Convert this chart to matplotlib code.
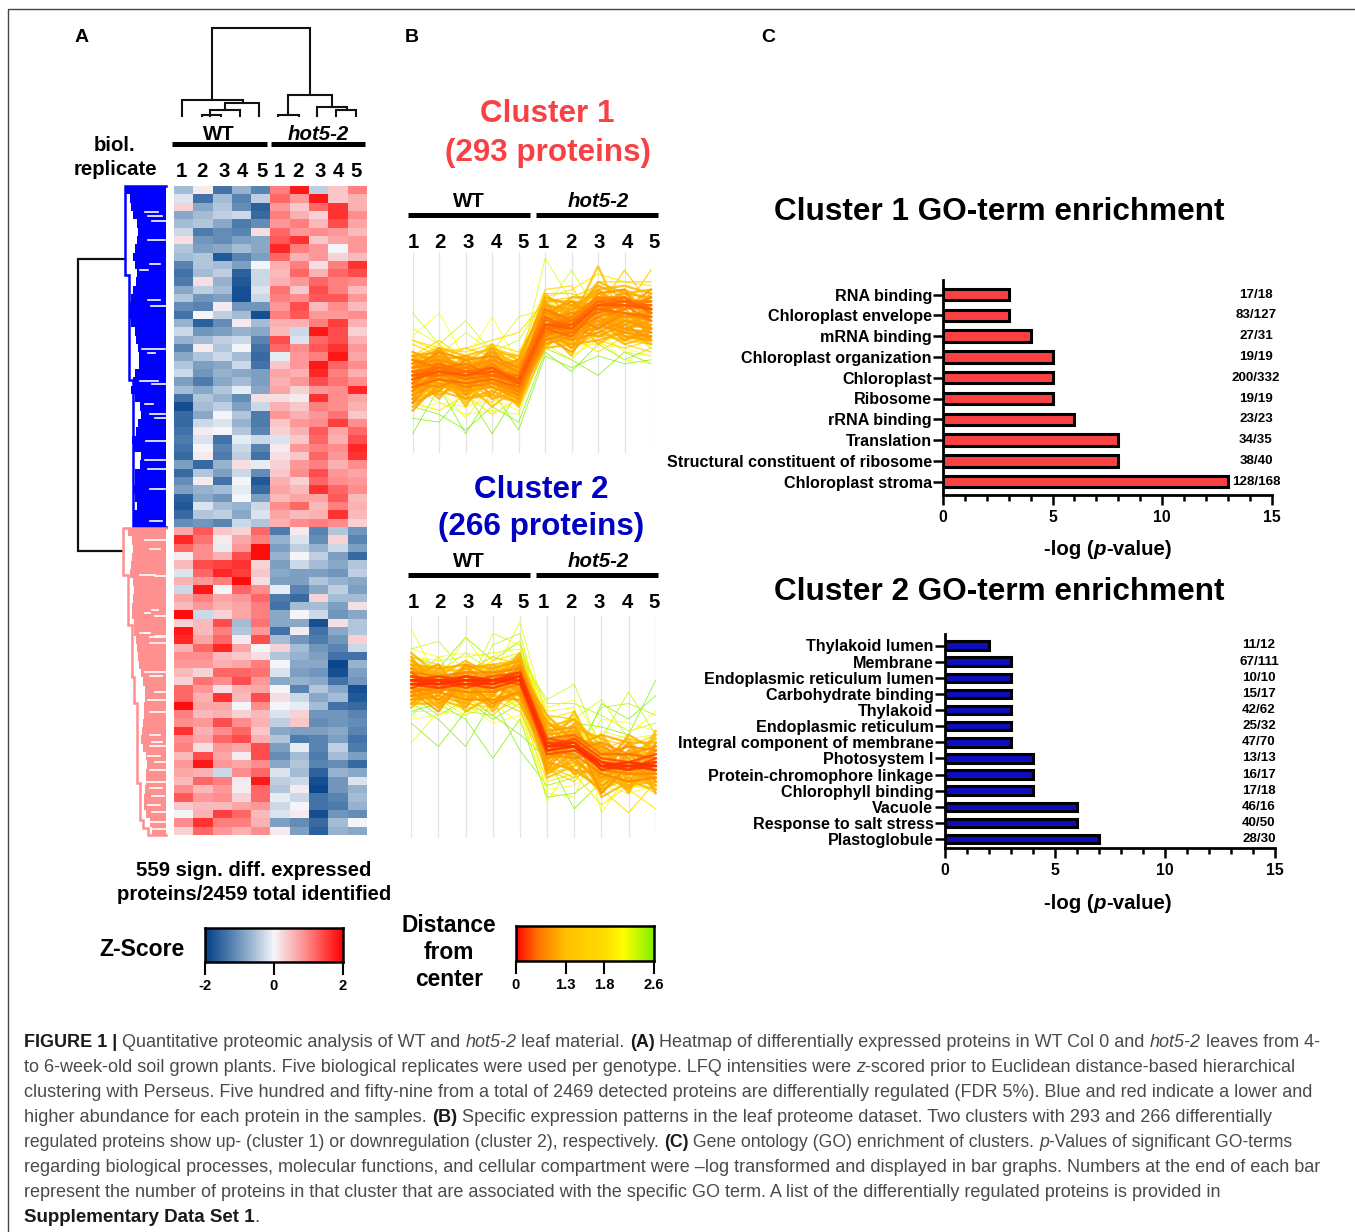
import numpy as np
import matplotlib
matplotlib.use("Agg")
import matplotlib.pyplot as plt
from matplotlib.colors import LinearSegmentedColormap
from matplotlib.ticker import MultipleLocator

plt.rcParams['font.family'] = ['Liberation Sans', 'DejaVu Sans']
W, H = 1355, 1232

# ---------- data ----------
REPLICATES = ['1', '2', '3', '4', '5']
# z-scores x10, columns WT1-5, hot5-2 1-5
HEAT_TOP = [
 [-6,1,-14,-7,-12,10,18,-4,4,10],[-2,-14,-6,-12,-4,12,8,18,4,6],[3,-8,-5,-11,-16,8,4,12,16,6],
 [-8,-6,-4,-3,-15,10,6,3,16,9],[-6,-5,-8,-13,-11,8,10,5,14,7],[-3,-13,-11,-12,2,12,8,9,8,5],
 [2,-10,-11,-9,-8,13,16,4,7,8],[-5,-9,-8,-6,-8,17,10,8,0,8],[-6,-5,-17,-12,-9,12,6,8,3,5],
 [-12,-5,-6,-9,0,6,10,2,10,16],[-14,-6,-4,-16,-3,5,12,6,12,14],[-13,2,-7,-17,-3,6,8,12,10,9],
 [-8,-4,-6,-18,-2,11,4,14,10,5],[-5,-10,-9,-18,-3,10,9,13,13,8],[-11,-12,1,-10,-10,8,14,5,9,5],
 [-14,0,-4,-6,-18,10,13,8,8,9],[-7,-16,-11,1,-6,6,6,10,15,6],[-3,-10,-9,-7,-8,5,-3,18,14,3],
 [-7,-6,-4,-3,-12,14,-2,12,14,6],[-12,1,-5,0,-14,12,9,13,16,8],[-8,-5,-3,-6,-15,-1,8,10,18,7],
 [-5,-9,-8,-3,-14,4,8,18,12,9],[-3,-10,-7,-8,-9,7,6,17,10,6],[-9,-13,-8,-6,-9,6,8,14,11,9],
 [-6,-8,-5,-1,-8,7,3,8,9,17],[-14,-5,-7,-11,2,2,1,16,9,7],[-18,-6,-4,-9,-3,6,4,10,9,6],
 [-15,-8,0,-5,-13,8,6,8,11,4],[-15,-3,-2,-7,-13,4,8,9,15,9],[-14,1,0,-5,-12,3,6,13,7,12],
 [-13,-2,-14,-1,-3,-2,4,12,6,14],[-14,0,-12,-3,-12,1,8,10,9,17],[-15,1,-13,-4,-14,2,4,12,8,16],
 [-9,-15,-7,2,-1,3,8,10,6,9],[-15,-5,-9,-3,-11,4,9,14,8,7],[-11,1,-14,0,-17,6,3,12,9,8],
 [-9,-7,-6,-1,-15,7,5,16,12,9],[-16,-8,-10,0,-9,5,7,7,13,5],[-17,-2,-6,-7,-3,9,12,5,10,6],
 [-15,-5,-4,-8,-2,7,5,6,16,5],[-11,-10,-12,-3,-5,6,9,10,9,3]]
HEAT_BOTTOM = [
 [7,13,4,3,12,-13,1,-12,-5,-10],[17,11,1,7,10,-7,-2,-11,3,-12],[12,9,-1,8,19,-9,-4,-7,-3,-9],
 [1,9,6,14,19,-7,0,-4,-9,-15],[5,14,15,16,3,-9,-3,-6,-8,-5],[-2,12,17,15,4,-8,-9,-9,-10,-4],
 [6,8,10,19,2,-9,-9,-5,-7,-8],[-3,18,0,12,9,-1,-12,-8,-4,-9],[7,10,7,8,12,-13,-15,3,-6,-6],
 [5,8,6,7,10,-14,-6,-6,-9,2],[19,-3,3,7,10,-8,0,-3,-10,-8],[3,5,14,-6,11,-8,-8,-18,2,-5],
 [18,5,10,-5,8,-14,1,-14,-8,-5],[17,7,12,1,14,-6,-10,-13,-10,3],[6,12,17,7,0,3,-6,-10,-12,-3],
 [9,9,5,4,2,-5,-7,-9,-14,-14],[8,8,6,7,10,0,-8,-8,-19,-7],[5,3,12,12,11,-2,-9,-10,-18,-9],
 [3,11,9,14,8,-8,-7,-8,-14,-10],[12,8,2,6,7,0,-12,-5,-8,-18],[12,6,16,5,14,2,-3,-8,-6,-17],
 [19,7,7,0,9,0,-1,-6,-14,-15],[10,5,6,3,5,-2,3,-10,-10,-12],[9,8,14,9,6,-4,4,-11,-10,-11],
 [16,6,9,12,4,-8,-9,-9,-8,-12],[9,7,12,14,6,-5,-13,-12,-9,-14],[10,2,8,7,14,-9,-1,-12,-4,-13],
 [5,14,7,1,14,-11,-6,-13,-6,-9],[8,18,8,7,9,-8,-5,-12,-11,-15],[7,6,-3,9,12,-2,-6,-16,-7,-8],
 [5,12,10,1,18,-4,-3,-18,-10,-2],[9,5,8,1,12,-5,1,-19,-10,-7],[13,8,9,3,12,-1,-3,-14,-12,-6],
 [4,5,5,7,8,-3,0,-14,-13,-7],[0,6,15,12,5,-2,1,-18,-10,-11],[9,16,10,10,6,-9,-11,-15,-6,0],
 [3,12,8,6,9,1,-9,-16,-7,-8]]

# profile traces x10, columns WT1-5, hot5-2 1-5
PROFILE_1 = [
 [10,2,8,0,3,14,8,10,7,7],[4,10,-2,9,-3,8,6,14,10,8],[6,2,-3,2,-5,24,13,16,12,14],
 [-2,-1,5,0,9,11,21,10,9,8],[3,0,1,3,5,13,9,7,6,5],[-21,-9,-21,-10,-20,-1,-4,-1,-3,-2],
 [-17,-18,-10,-21,-10,1,-2,-6,0,-3],[-14,-16,-20,-14,-18,0,-5,2,-2,1],[-12,-9,-17,-8,-13,5,-1,3,-2,-3],
 [-8,-2,-9,0,-1,10,8,22,7,9],[-3,-1,-2,1,-1,8,10,11,21,12],[-1,1,-3,2,-5,9,8,13,11,21],
 [-3,2,-5,1,-7,14,16,20,18,17],[-6,-1,-4,0,-3,9,12,15,16,13],[-7,-3,-9,-2,-9,4,9,16,17,15],
 [-3,1,-1,1,-2,13,13,9,8,7],[-9,-11,-7,-12,-10,1,2,6,7,6],[-2,-6,-8,-9,-11,9,3,7,5,4],
 [-13,-7,-11,-6,-14,5,1,5,3,5],[-5,-8,-2,-10,-4,13,14,17,15,16],[0,-2,1,-1,-3,6,10,4,3,2],
 [-10,1,-8,2,-6,3,6,4,5,2],[-1,3,-2,-7,-4,15,15,12,2,0],[-15,-13,-14,-12,-15,6,2,2,1,-1],
 [-13,-15,-11,-16,-12,8,4,0,4,2],[-9,-13,-16,-15,-16,2,-2,5,0,-1],[3,1,0,2,0,11,8,3,1,3],
 [-11,-4,-14,-4,-12,11,10,6,2,4],[2,-1,-4,-2,-1,16,17,5,6,1],[-4,-8,-10,-13,-6,10,11,18,18,18],
 [-12,-4,-11,-3,-11,5,3,9,6,4],[-3,-1,-6,0,-6,12,7,9,4,3],[-11,-7,-3,-8,-5,2,6,15,12,14],[-1,-6,-2,-8,-9,7,3,5,8,6],
 [-9,-2,-11,-1,-8,10,13,8,6,5],[-13,-5,-9,-6,-10,6,9,6,10,8],[-8,0,-5,-2,-4,4,0,7,9,11],[-2,-9,-6,-11,-3,8,11,16,10,6],
 [-14,-9,-6,-9,-12,3,5,12,7,10],[-4,-4,-10,-2,-12,11,6,4,7,3],[-6,1,-7,1,-8,9,4,8,3,6],[-10,-6,-12,-5,-6,12,10,17,14,11],
 [-7,-10,-3,-12,-7,5,12,10,16,9],[-12,-2,-8,-4,-13,7,2,3,5,9],[0,-3,-5,-4,-2,13,5,6,10,5],[-5,-11,-8,-14,-9,6,-1,12,3,7],
 [-8,-6,-1,-3,-10,9,14,14,8,15],[-11,-3,-5,0,-7,3,8,18,15,10],[-3,-7,-11,-7,-4,15,9,2,6,2],[-9,-4,-13,-7,-14,1,7,11,15,16],
 [-6,-12,-4,-9,-5,4,2,16,11,6],[-4,-2,-1,-5,-3,5,11,13,4,4],[-15,-8,-9,-4,-9,10,6,7,12,13],[-1,0,-6,-3,-8,14,12,10,13,9],
 [-7,-8,-12,-10,-13,8,13,12,9,5],[-10,-1,-4,-6,-2,2,4,14,6,8],[-5,-3,-10,-1,-10,7,1,9,14,3],[-13,-10,-5,-8,-8,11,5,13,5,11],
 [-2,-5,-7,-2,-5,6,9,6,11,16],[-8,-7,-2,-5,-11,10,7,15,16,6],
 [-11,-8,-10,-9,-12,2,4,8,9,9],[-1,-2,-5,-3,-7,12,11,13,15,14],[-12,-10,-12,-11,-13,4,3,10,8,7],
 [-4,0,-2,-1,-4,8,10,11,9,10],[-8,-9,-6,-8,-11,5,8,14,13,10],[-2,-4,-3,-6,-6,11,8,10,12,8],
 [-10,-5,-7,-3,-8,7,5,13,11,14],[-5,-7,-9,-8,-10,3,5,9,11,12],[-3,-2,-4,-2,-5,10,9,14,14,10],
 [-9,-7,-8,-7,-9,6,4,11,10,9],[-7,-5,-4,-7,-10,4,7,10,14,11],[-4,-3,-7,-5,-6,7,9,14,13,13],
 [-6,-6,-5,-6,-7,9,6,12,12,12],[-8,-4,-6,-4,-9,5,5,11,12,13],[-5,-5,-7,-6,-8,7,8,13,14,10],
 [-7,-3,-5,-4,-7,8,7,13,13,11],[-6,-4,-6,-5,-8,6,6,12,13,12],[-6,-5,-6,-5,-7,7,7,12,13,11],
 [-5,-4,-5,-6,-8,6,7,13,12,12],[-7,-5,-6,-4,-8,7,6,12,12,11],
]
PROFILE_2 = [
 [25,12,23,13,27,2,0,-6,-8,-7],[20,22,14,15,18,7,11,-6,-7,-3],[14,13,9,24,21,3,2,7,-3,-5],
 [12,18,8,21,24,-2,-1,-3,9,-2],[18,15,23,17,22,-4,1,0,-2,12],[-4,4,3,8,5,-19,-9,-12,-10,-9],
 [1,-5,4,3,-2,-8,-21,-14,-13,-12],[6,2,-5,7,-6,-15,-13,-10,-11,-9],[4,6,2,-8,2,-18,-17,-12,-14,-13],
 [2,3,6,1,3,-16,-15,-9,-11,-10],[16,9,17,10,17,5,7,-4,-2,4],[5,7,3,6,8,-17,-18,-1,-3,-2],
 [18,17,18,19,20,4,5,-22,-12,-10],[17,14,15,15,18,-1,3,-16,-22,-14],[15,16,13,17,19,2,4,-14,-16,-21],
 [3,9,5,4,7,-9,-7,5,6,3],[8,3,7,2,6,-12,-10,6,2,8],[19,14,19,14,19,6,6,3,-1,1],
 [6,8,4,9,5,-14,-12,-20,-15,-16],[20,18,19,18,22,3,-3,-15,-17,-15],[4,4,9,6,1,-6,-9,2,1,-1],
 [16,12,15,16,17,1,-1,-12,-14,-16],[5,10,8,3,9,-11,-14,-6,-3,-5],[9,6,10,7,4,-10,-13,-3,-5,-2],
 [18,16,14,18,16,3,2,-13,-15,-13],[7,9,6,5,10,-9,-11,-15,-13,-17],[8,7,9,8,7,-7,-5,-2,-4,-4],
 [18,9,16,8,15,1,-3,-6,-12,-8],[8,14,5,13,6,-8,-4,-14,-7,-12],[15,6,11,5,16,-4,-8,-5,-14,-6],[6,12,15,11,10,-10,-2,-11,-4,-14],
 [13,16,7,14,12,-1,-8,-15,-11,-5],[10,5,14,8,18,-12,-6,-8,-15,-11],[17,11,9,16,9,-5,0,-3,-9,-15],[7,13,11,6,14,-3,-11,-16,-6,-9],
 [14,8,16,9,13,-9,1,-12,-16,-4],[11,15,6,15,8,2,-7,-7,-5,-13],[9,4,13,10,15,-11,-3,-13,-9,-7],[16,10,8,12,17,-6,-12,-4,-13,-15],
 [5,11,12,4,12,-2,-9,-17,-8,-3],[19,13,12,10,11,-7,4,-9,-3,-12],[12,7,5,14,16,-13,-10,-6,-16,-8],[8,15,14,7,7,1,-2,-15,-12,-1],
 [15,14,10,11,19,-8,-5,-2,-10,-16],[6,6,10,12,10,-4,-12,-11,-2,-6],[13,9,15,16,13,-10,-1,-18,-14,-11],[10,13,4,8,15,0,-6,-8,-17,-4],
 [17,12,13,9,15,-3,-9,-13,-6,-17],[7,8,16,13,9,-6,-3,-5,-8,-14],[14,16,8,6,12,-11,-7,-16,-13,-2],[11,5,11,15,17,-2,2,-7,-16,-9],
 [9,11,14,10,8,-9,-11,-12,-4,-12],[16,8,6,13,14,3,-4,-4,-12,-7],[12,14,9,5,11,-12,-8,-14,-9,-15],[10,9,12,9,16,-5,-2,-17,-10,-6],
 [17,13,17,13,18,0,2,-5,-8,-6],[10,7,12,6,9,-8,-6,-4,-7,-5],[6,11,7,11,8,-11,-9,-13,-15,-14],
 [15,12,14,13,16,-1,0,-11,-12,-13],[16,15,16,15,17,-2,-1,-9,-11,-12],[8,9,7,7,9,-7,-8,-7,-5,-6],
 [9,10,9,9,11,-6,-7,-12,-14,-13],[14,10,13,11,14,-3,-2,-7,-7,-8],[10,12,10,12,11,-7,-6,-10,-9,-7],
 [14,13,14,14,15,-3,-4,-11,-12,-12],[13,11,13,12,14,-5,-3,-8,-9,-10],[12,13,12,11,13,-4,-5,-9,-11,-8],
 [11,10,11,10,12,-6,-5,-10,-10,-11],[13,12,12,13,14,-3,-4,-10,-11,-9],[12,11,13,12,13,-5,-4,-9,-10,-10],
 [12,12,12,12,13,-4,-4,-10,-10,-10],[11,12,12,11,13,-5,-4,-10,-11,-10],[12,11,11,12,14,-4,-5,-10,-10,-11],
 [13,12,13,12,13,-4,-5,-9,-10,-10],[11,11,12,12,12,-5,-5,-10,-9,-10],[12,12,11,11,13,-6,-5,-11,-10,-9],
]

GO1_TERMS = ['RNA binding','Chloroplast envelope','mRNA binding','Chloroplast organization','Chloroplast',
             'Ribosome','rRNA binding','Translation','Structural constituent of ribosome','Chloroplast stroma']
GO1_VALUES = [3,3,4,5,5,5,6,8,8,13]
GO1_COUNTS = ['17/18','83/127','27/31','19/19','200/332','19/19','23/23','34/35','38/40','128/168']
GO2_TERMS = ['Thylakoid lumen','Membrane','Endoplasmic reticulum lumen','Carbohydrate binding','Thylakoid',
             'Endoplasmic reticulum','Integral component of membrane','Photosystem I','Protein-chromophore linkage',
             'Chlorophyll binding','Vacuole','Response to salt stress','Plastoglobule']
GO2_VALUES = [2,3,3,3,3,3,3,4,4,4,6,6,7]
GO2_COUNTS = ['11/12','67/111','10/10','15/17','42/62','25/32','47/70','13/13','16/17','17/18','46/16','40/50','28/30']

Z_TICKS = [-2, 0, 2]
DIST_TICKS = [0, 1.3, 1.8, 2.6]
DIST_TICK_LABELS = ['0', '1.3', '1.8', '2.6']

COL_DENDRO = [
 [(212,100),(212,28),(310,28),(310,95)],
 [(182,116),(182,100),(243,100),(243,103)],
 [(225,110),(225,103),(259,103),(259,116)],
 [(210,116),(210,110),(240,110),(240,116)],
 [(202,116),(202,115),(221,115),(221,116)],
 [(288,115),(288,95),(332,95),(332,107)],
 [(278,116),(278,115),(299,115),(299,116)],
 [(317,116),(317,107),(347,107),(347,110)],
 [(336,116),(336,110),(356,110),(356,116)],
]
ROOT_DENDRO = [(124,259),(78,259),(78,551),(123,551)]
BLUE_LEFT = [125,130,131,133,137,138,137,135,133,135,137,136,133,131,130,130,131,135,136,138,139,
             139,135,133,131,135,140,141,138,136,132,134,141,140,135,135,134,135,137,133,134]
PINK_LEFT = [128,132,133,132,131,130,133,134,133,132,132,134,134,136,137,138,139,141,143,145,145,144,
             144,143,142,141,143,146,147,146,146,145,144,144,146,150,152]
BLUE_SPINE = [(166,186),(125,186),(125,275),(129,275),(129,380),(133,380),(133,527),(166,527)]
PINK_SPINE = [(166,528),(123,528),(123,575),(128,575),(128,625),(132,625),(132,677),(134,677),(134,703),
              (137,703),(137,783),(140,783),(140,820),(143,820),(143,828),(148,828),(148,835),(166,835)]
BLUE_GAPS = [(212,145,158),(216,148,162),(221,152,166),(240,148,165),(264,150,160),(270,140,148),(300,148,160),(306,151,166),
             (349,142,165),(353,148,155),(381,140,158),(384,152,166),(404,145,153),(414,150,165),(418,155,166),
             (441,146,166),(460,145,165),(469,148,166),(489,150,165),(521,150,162)]
PINK_GAPS = [(540,145,166),(549,150,160),(575,140,155),(576,155,166),(610,152,158),(613,145,150),(616,155,166),
             (633,140,150),(637,150,165),(643,150,166),(636,155,166),(676,150,162),(692,155,165),(672,145,166),(700,148,166),
             (712,150,166),(735,150,160),(742,152,162),(746,150,165),(756,148,160),(762,155,165),(770,150,166),(782,146,166),
             (788,150,162),(796,152,164),(805,148,160),(812,152,165),(822,150,166),(829,152,166)]

CAPTION = [
 ([('b',"FIGURE 1 |"),('r'," Quantitative proteomic analysis of WT and "),('i',"hot5-2"),('r'," leaf material. "),('b',"(A)"),
   ('r'," Heatmap of differentially expressed proteins in WT Col 0 and "),('i',"hot5-2"),('r'," leaves from 4-")],1324),
 ([('r',"to 6-week-old soil grown plants. Five biological replicates were used per genotype. LFQ intensities were "),('i',"z"),
   ('r',"-scored prior to Euclidean distance-based hierarchical")],1301),
 ([('r',"clustering with Perseus. Five hundred and fifty-nine from a total of 2469 detected proteins are differentially regulated (FDR 5%). Blue and red indicate a lower and")],1311),
 ([('r',"higher abundance for each protein in the samples. "),('b',"(B)"),
   ('r'," Specific expression patterns in the leaf proteome dataset. Two clusters with 293 and 266 differentially")],1273),
 ([('r',"regulated proteins show up- (cluster 1) or downregulation (cluster 2), respectively. "),('b',"(C)"),
   ('r'," Gene ontology (GO) enrichment of clusters. "),('i',"p"),('r',"-Values of significant GO-terms")],1294),
 ([('r',"regarding biological processes, molecular functions, and cellular compartment were –log transformed and displayed in bar graphs. Numbers at the end of each bar")],1322),
 ([('r',"represent the number of proteins in that cluster that are associated with the specific GO term. A list of the differentially regulated proteins is provided in")],1226),
 ([('b',"Supplementary Data Set 1"),('r',".")],260),
]

# ---------- colours ----------
RED = '#f94144'
BLUE = '#0d0dbf'
PINK = '#ff9090'
DEND_BLUE = '#0000ff'
z_cmap = LinearSegmentedColormap.from_list('z', [(0,'#003f87'),(0.25,'#7096bd'),(0.5,'#f4f6fa'),(0.72,'#ff9090'),(1,'#ff0000')])
d_cmap = LinearSegmentedColormap.from_list('d', [(0,'#ff0000'),(0.15,'#ff7000'),(0.36,'#ffc000'),(0.64,'#ffdc00'),(0.78,'#ffff00'),(1,'#80f000')])
D_NODES = [0, 1.3, 1.8, 2.6]
D_POS = [0, 0.36, 0.64, 1]

fig = plt.figure(figsize=(W/100, H/100), dpi=100, facecolor='white')

def pxaxes(x0, y0, x1, y1, **kw):
    return fig.add_axes([x0/W, 1-y1/H, (x1-x0)/W, (y1-y0)/H], **kw)

ov = fig.add_axes([0, 0, 1, 1], zorder=5)
ov.set_xlim(0, W); ov.set_ylim(H, 0); ov.axis('off'); ov.patch.set_alpha(0)

def T(x, y, s, size, ha='center', weight='bold', style='normal', color='black'):
    return ov.text(x, y+1.5, s, fontsize=size, ha=ha, va='center', fontweight=weight, fontstyle=style, color=color)

renderer = fig.canvas.get_renderer()
def seg_width(s, size, weight, style):
    t = ov.text(0, 0, s+'.', fontsize=size, fontweight=weight, fontstyle=style)
    a = t.get_window_extent(renderer).width; t.set_text('.')
    b = t.get_window_extent(renderer).width; t.remove()
    return a-b

def rich(x, y, segs, size, color):
    for kind, s in segs:
        w_ = 'bold' if kind == 'b' else 'normal'
        st = 'italic' if kind == 'i' else 'normal'
        c = '#1a1a1a' if kind == 'b' else color
        ov.text(x, y, s, fontsize=size, fontweight=w_, fontstyle=st, color=c, ha='left', va='baseline')
        x += seg_width(s, size, w_, st)
    return x

# frame
ov.plot([8, 8, W], [H, 9, 9], color='#444444', lw=1.0)

# panel letters
for x, s in [(82,'A'),(412,'B'),(768,'C')]:
    T(x, 36, s, 14)

# ---------- heatmap ----------
axh1 = pxaxes(174, 186, 366.3, 527)
axh1.imshow(np.array(HEAT_TOP)/10, cmap=z_cmap, vmin=-2, vmax=2, aspect='auto', interpolation='nearest')
axh2 = pxaxes(174, 527, 366.3, 835)
axh2.imshow(np.array(HEAT_BOTTOM)/10, cmap=z_cmap, vmin=-2, vmax=2, aspect='auto', interpolation='nearest')
for a in (axh1, axh2):
    a.axis('off')

for seg in COL_DENDRO:
    ov.plot(*zip(*seg), color='#111111', lw=1.5, solid_joinstyle='miter')
ov.plot(*zip(*ROOT_DENDRO), color='#111111', lw=1.6, solid_joinstyle='miter')

def row_dendro(lefts, spine, gaps, y0, y1, col):
    edges = np.linspace(y0, y1, len(lefts)+1)
    for i, l in enumerate(lefts):
        ov.fill_between([l, 166], edges[i], edges[i+1], color=col, lw=0)
    ov.plot(*zip(*spine), color=col, lw=1.8, solid_joinstyle='miter')
    for y, a, b in gaps:
        ov.plot([a, b], [y, y], color='white', lw=1.2)

row_dendro(BLUE_LEFT, BLUE_SPINE, BLUE_GAPS, 186, 527, DEND_BLUE)
row_dendro(PINK_LEFT, PINK_SPINE, PINK_GAPS, 528, 835, PINK)

T(115, 144, 'biol.', 14.7); T(115, 168, 'replicate', 14.7)
T(219, 133, 'WT', 14.7); T(318, 133, 'hot5-2', 14.7, style='italic')
ov.plot([172, 267], [144, 144], color='black', lw=3.6, solid_capstyle='butt')
ov.plot([271, 365], [144, 144], color='black', lw=3.6, solid_capstyle='butt')
for x, s in zip([181,202,224,242,262,279,298,320,338,356], REPLICATES*2):
    T(x, 170, s, 14.7)
T(254, 869, '559 sign. diff. expressed', 14.6)
T(254, 893, 'proteins/2459 total identified', 14.6)

# ---------- profiles ----------
def profile(traces, box, z0, reps_y, wt_y, bar_y, xs):
    arr = np.array(traces)/10
    centre = arr.mean(axis=0)
    dist = np.sqrt(((arr-centre)**2).sum(axis=1))*0.88
    x0, y0, x1, y1 = box
    ax = pxaxes(x0, y0, x1, y1)
    ax.set_xlim(0, 9); ax.set_ylim((z0-y1)/39, (z0-y0)/39)
    ax.axis('off')
    for i in range(10):
        ax.axvline(i, color='#e4e4e4', lw=0.9, zorder=1)
    for k in np.argsort(-dist):
        d = min(dist[k], 2.6)
        lw = 0.6 if d > 2.0 else (0.9 if d > 1.4 else 1.6)
        ax.plot(range(10), arr[k], color=d_cmap(np.interp(d, D_NODES, D_POS)), lw=lw, alpha=0.85, zorder=2+2.6-d,
                clip_on=False)
    T(469, wt_y, 'WT', 14.7); T(598, wt_y, 'hot5-2', 14.7, style='italic')
    ov.plot([408, 530], [bar_y, bar_y], color='black', lw=3.6, solid_capstyle='butt')
    ov.plot([536, 658], [bar_y, bar_y], color='black', lw=3.6, solid_capstyle='butt')
    for x, s in zip(xs, REPLICATES*2):
        T(x, reps_y, s, 14.7)

REP_X = [413,440,468,496,523,543,571,599,627,654]
profile(PROFILE_1, (412.7, 252, 651, 453), 352, 241, 200, 215, REP_X)
profile(PROFILE_2, (411.3, 616, 655.7, 838), 727, 601, 560, 575, REP_X)

T(547, 113, 'Cluster 1', 22.6, color=RED); T(548, 151, '(293 proteins)', 22.6, color=RED)
T(541, 488, 'Cluster 2', 22.6, color='#0000c0'); T(541, 526, '(266 proteins)', 22.6, color='#0000c0')

# ---------- GO bars ----------
def go(terms, values, counts, color, box, first, step, barh, title_y, title, xlabel_y, count_x, font):
    x0, y0, x1, y1 = box
    ax = pxaxes(x0, y0, x1, y1)
    ypos = np.arange(len(terms))
    ax.barh(ypos, values, height=barh/step, color=color, edgecolor='black', linewidth=2.2, zorder=3)
    ax.set_xlim(0, 15); ax.set_ylim((y1-first)/step, (y0-first)/step)
    ax.patch.set_alpha(0)
    for s in ('top', 'right'):
        ax.spines[s].set_visible(False)
    for s in ('left', 'bottom'):
        ax.spines[s].set_linewidth(2.0)
    ax.set_yticks(ypos); ax.set_yticklabels(terms, fontsize=font, fontweight='bold')
    ax.tick_params(axis='y', length=7, width=1.8, pad=1)
    ax.xaxis.set_major_locator(MultipleLocator(5)); ax.xaxis.set_minor_locator(MultipleLocator(1))
    ax.tick_params(axis='x', which='major', length=7, width=1.8, labelsize=11.3, pad=4)
    ax.tick_params(axis='x', which='minor', length=4, width=1.8)
    for l in ax.get_xticklabels():
        l.set_fontweight('bold')
    for i, c in enumerate(counts):
        ax.text((count_x-x0)/(x1-x0)*15, i, c, fontsize=9.6, fontweight='bold', ha='center', va='center', clip_on=False)
    T(999.5, title_y, title, 22.7)
    segs = [('b2', '-log ('), ('bi', 'p'), ('b2', '-value)')]
    sizes = [seg_width(s, 14.7, 'bold', 'italic' if k == 'bi' else 'normal') for k, s in segs]
    x = 1108 - sum(sizes)/2
    for (k, s), w_ in zip(segs, sizes):
        ov.text(x, xlabel_y+1.5, s, fontsize=14.7, fontweight='bold', fontstyle='italic' if k == 'bi' else 'normal',
                ha='left', va='center')
        x += w_

go(GO1_TERMS, GO1_VALUES, GO1_COUNTS, RED, (943, 280, 1271.5, 495), 294.5, 20.8, 11.5, 211,
   'Cluster 1 GO-term enrichment', 548, 1256, 11.65)
go(GO2_TERMS, GO2_VALUES, GO2_COUNTS, BLUE, (944.5, 634, 1275, 848), 645.5, 16.13, 8.5, 591,
   'Cluster 2 GO-term enrichment', 902, 1259, 11.65)

# ---------- colour bars ----------
def cbar(box, cmap, lim, ticks, labels, size=10.6):
    x0, y0, x1, y1 = box
    ax = pxaxes(x0, y0, x1, y1)
    ax.imshow(np.linspace(0, 1, 256)[None, :], cmap=cmap, aspect='auto', extent=[lim[0], lim[1], 0, 1])
    ax.set_yticks([])
    ax.set_xticks(ticks); ax.set_xticklabels(labels, fontsize=size, fontweight='bold')
    ax.tick_params(axis='x', length=9, width=1.5, pad=3)
    for s in ax.spines.values():
        s.set_linewidth(1.8)

cbar((205, 928, 343, 962), z_cmap, (-2, 2), Z_TICKS, [str(v) for v in Z_TICKS])
cbar((516, 926, 654, 961), d_cmap, (0, 1), np.interp(DIST_TICKS, D_NODES, D_POS), DIST_TICK_LABELS)
T(142, 948, 'Z-Score', 16.6)
T(449, 924, 'Distance', 16.4); T(449, 951, 'from', 16.4); T(449, 978, 'center', 16.4)

# ---------- caption ----------
BASE = 12.0
for i, (segs, right) in enumerate(CAPTION):
    nat = sum(seg_width(s, BASE, 'bold' if k == 'b' else 'normal', 'italic' if k == 'i' else 'normal') for k, s in segs)
    size = BASE*(right-24)/nat
    rich(24, 1047+25*i, segs, size, '#4a4a4a')

fig.savefig('out.png', dpi=100, facecolor='white')
